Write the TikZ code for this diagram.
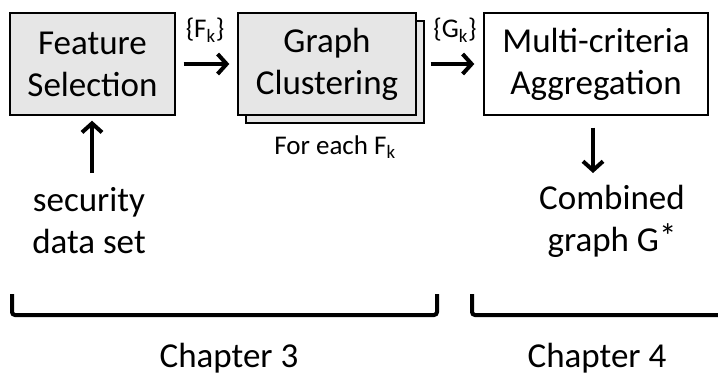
\documentclass[tikz,border=0pt]{standalone}
\usepackage{fontspec}
\setmainfont{Carlito}
\usetikzlibrary{arrows.meta}
\definecolor{boxgray}{HTML}{E6E6E6}
\begin{document}
\begin{tikzpicture}[x=1pt,y=-1pt,
  box/.style={draw=black, line width=1.4pt, align=center, inner sep=0pt,
    minimum height=102pt, font=\fontsize{35}{42}\selectfont},
  big/.style={align=center, inner sep=0pt, font=\fontsize{35}{42}\selectfont},
  small/.style={inner sep=0pt, font=\fontsize{27}{32}\selectfont},
  arr/.style={line width=4pt, -{Straight Barb[length=9pt,width=20pt,line width=4pt]}},
  brk/.style={line width=4pt, rounded corners=3pt}]
\useasboundingbox (0,0) rectangle (718,375);

\node[box, fill=boxgray, minimum width=165pt] (fs) at (92.5,64) {Feature\\Selection};
\node[box, fill=boxgray, minimum width=178pt] (gcb) at (335,72) {};
\node[box, fill=boxgray, minimum width=178pt] (gc) at (327,64) {Graph\\Clustering};
\node[box, fill=white, minimum width=224pt] (ma) at (596,64) {Multi-criteria\\Aggregation};

\node[small] (fk) at (205,30) {\{F\textsubscript{k}\}};
\node[small] (gk) at (455,30) {\{G\textsubscript{k}\}};
\node[small] (each) at (335,147) {For each F\textsubscript{k}};

\draw[arr, shorten <=8pt, shorten >=8pt] (fs.east) -- (gc.west);
\draw[arr, shorten <=6pt, shorten >=9pt] (gcb.east |- gc.east) -- (ma.west);

\node[big] (sec) at (89,221) {security\\data set};
\coordinate (secTop) at (92,173);
\draw[arr, shorten >=5pt] (secTop) -- (fs.south -| secTop);

\node[big] (comb) at (612,221) {Combined\\graph G\raisebox{2.5pt}{*}};
\coordinate (combTop) at (593,173);
\draw[arr, shorten <=12pt] (ma.south -| combTop) -- (combTop);

\draw[brk] (12,294) |- (437,315) -- (437,294);
\draw[brk] (472,294) |- (730,315);

\node[big] (ch3) at (229,358) {Chapter 3};
\node[big] (ch4) at (597,358) {Chapter 4};
\end{tikzpicture}
\end{document}
